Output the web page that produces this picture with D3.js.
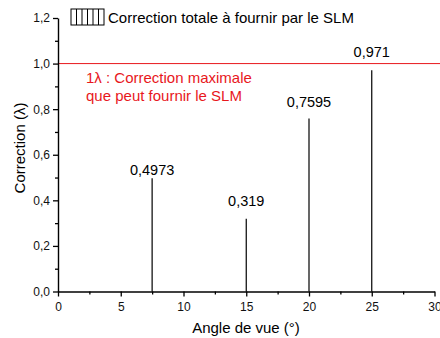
<!DOCTYPE html>
<html><head><meta charset="utf-8">
<script src="https://cdn.jsdelivr.net/npm/d3@7"></script>
<style>body{margin:0;background:#fff}svg{display:block}text{font-family:"Liberation Sans",Arial,sans-serif}</style>
</head><body>
<svg id="c" width="440" height="338"></svg>
<script>
const angles = [7.5, 15, 20, 25];
const corrections = [0.4973, 0.319, 0.7595, 0.971];
const valueLabels = ["0,4973", "0,319", "0,7595", "0,971"];
const xTicks = [0, 5, 10, 15, 20, 25, 30];
const yTicks = [0, 0.2, 0.4, 0.6, 0.8, 1.0, 1.2];
const maxCorrection = 1.0;
const legendText = "Correction totale à fournir par le SLM";
const noteLines = ["1λ : Correction maximale", "que peut fournir le SLM"];
const labelGap = [3, 13, 11, 13];

const svg = d3.select("#c");
const x = d3.scaleLinear().domain([0, 30]).range([58, 434.5]);
const y = d3.scaleLinear().domain([0, 1.2]).range([291.5, 18]);
const fmt = d => d3.format(".1f")(d).replace(".", ",");

// red max line
svg.append("line").attr("x1", x(0)).attr("x2", 440)
  .attr("y1", y(maxCorrection)).attr("y2", y(maxCorrection))
  .attr("stroke", "#e8171c").attr("stroke-width", 1);

// bars (thin)
svg.selectAll("line.bar").data(angles).join("line").attr("class", "bar")
  .attr("x1", d => x(d)).attr("x2", d => x(d))
  .attr("y1", y(0)).attr("y2", (d, i) => y(corrections[i]))
  .attr("stroke", "#000").attr("stroke-width", 1.2);

svg.selectAll("text.val").data(angles).join("text").attr("class", "val")
  .attr("x", d => x(d)).attr("y", (d, i) => y(corrections[i]) - labelGap[i])
  .attr("text-anchor", "middle").attr("font-size", 14.5).text((d, i) => valueLabels[i]);

// axes
const xAxis = d3.axisBottom(x).tickValues(xTicks).tickFormat(d3.format("d")).tickSize(5).tickSizeOuter(0);
const gx = svg.append("g").attr("transform", `translate(0,${y(0)})`).call(xAxis);
gx.selectAll(".tick text").attr("font-size", 12).attr("dy", "0.95em").attr("font-family", "Liberation Sans, Arial").attr("fill", "#111");
gx.select(".domain").attr("stroke-width", 1.4);
gx.selectAll(".tick line").attr("stroke-width", 1.3);
const xMinor = d3.axisBottom(x).tickValues(d3.range(2.5, 30, 5)).tickSize(3).tickFormat("");
const gxm = svg.append("g").attr("transform", `translate(0,${y(0)})`).call(xMinor);
gxm.select(".domain").remove();
gxm.selectAll(".tick line").attr("stroke-width", 1.3);

const yAxis = d3.axisLeft(y).tickValues(yTicks).tickFormat(fmt).tickSize(5).tickSizeOuter(0);
const gy = svg.append("g").attr("transform", `translate(${x(0)},0)`).call(yAxis);
gy.selectAll(".tick text").attr("font-size", 12).attr("font-family", "Liberation Sans, Arial").attr("fill", "#111");
gy.select(".domain").attr("stroke-width", 1.4);
gy.selectAll(".tick line").attr("stroke-width", 1.3);
const yMinor = d3.axisLeft(y).tickValues(d3.range(0.1, 1.2, 0.2)).tickSize(3).tickFormat("");
const gym = svg.append("g").attr("transform", `translate(${x(0)},0)`).call(yMinor);
gym.select(".domain").remove();
gym.selectAll(".tick line").attr("stroke-width", 1.3);

// axis titles
svg.append("text").attr("x", 246).attr("y", 333).attr("text-anchor", "middle")
  .attr("font-size", 15).text("Angle de vue (°)");
svg.append("text").attr("transform", "translate(25,148) rotate(-90)").attr("text-anchor", "middle")
  .attr("font-size", 15).text("Correction (λ)");

// legend
const lg = svg.append("g");
lg.append("rect").attr("x", 71).attr("y", 9).attr("width", 33).attr("height", 16)
  .attr("fill", "#fff").attr("stroke", "#000").attr("stroke-width", 1);
d3.range(1, 6).forEach(i => {
  lg.append("line").attr("x1", 71 + i * 5.5).attr("x2", 71 + i * 5.5)
    .attr("y1", 9).attr("y2", 25).attr("stroke", "#000").attr("stroke-width", 1);
});
lg.append("text").attr("x", 108).attr("y", 23).attr("font-size", 15).text(legendText);

// note
svg.selectAll("text.note").data(noteLines).join("text").attr("class", "note")
  .attr("x", 86).attr("y", (d, i) => 83 + i * 18).attr("fill", "#e8171c")
  .attr("font-size", 15).text(d => d);
</script>
</body></html>
